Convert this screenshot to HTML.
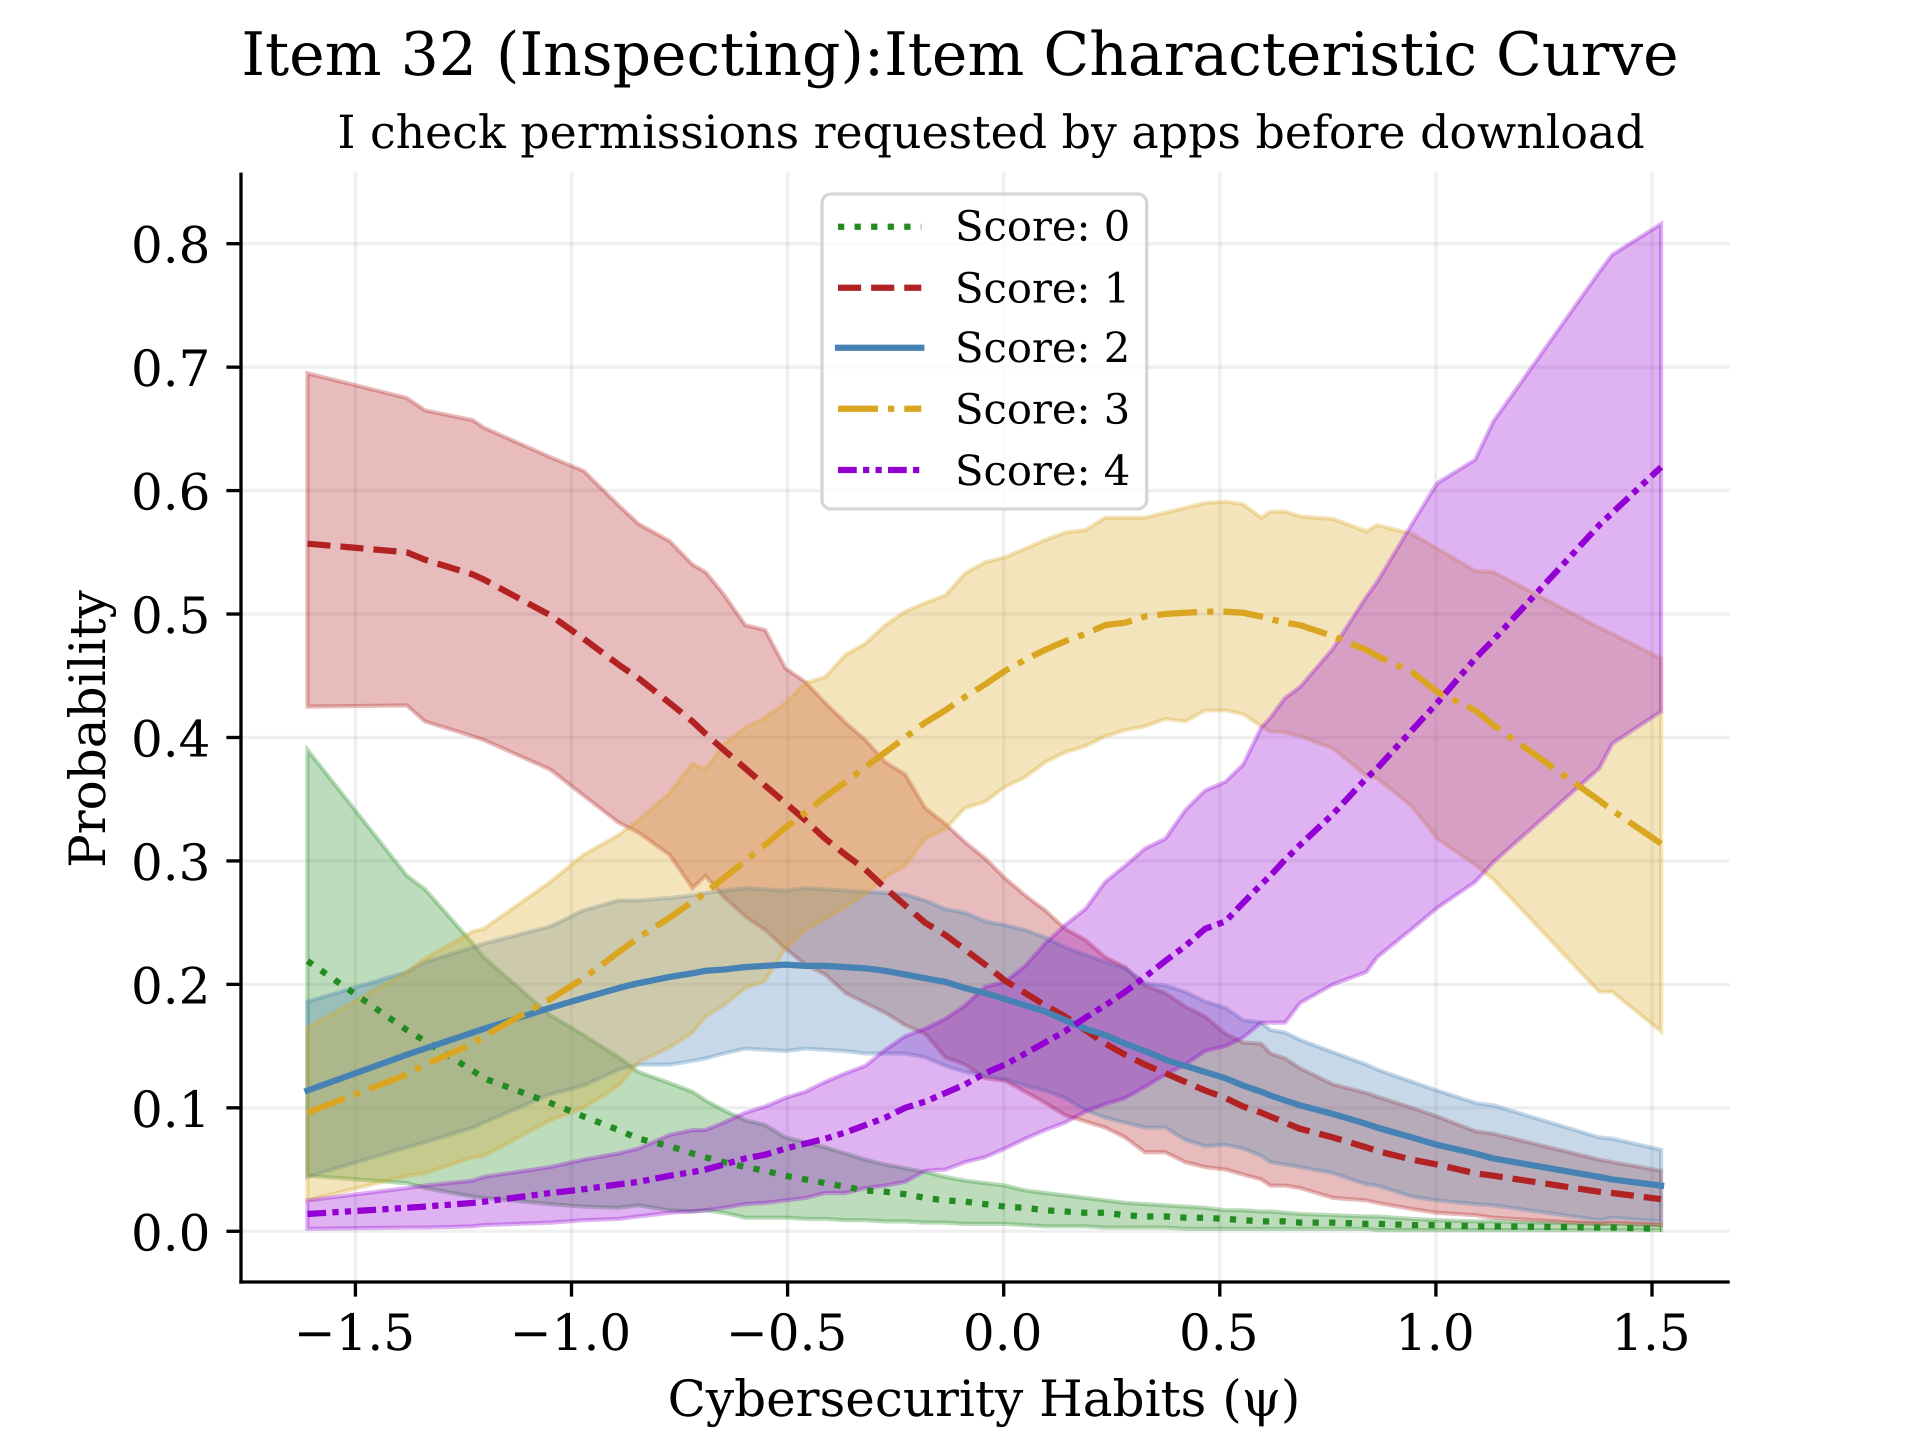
<!DOCTYPE html>
<html lang="en">
<head>
<meta charset="utf-8">
<title>Item 32 (Inspecting): Item Characteristic Curve</title>
<style>
  html, body { margin: 0; padding: 0; background: #fff; }
  svg { display: block; }
  text { font-family: "DejaVu Serif", "Liberation Serif", serif; fill: #000; text-rendering: geometricPrecision; }
</style>
</head>
<body>
<svg id="chart" xmlns="http://www.w3.org/2000/svg" width="1920" height="1440" viewBox="0 0 1920 1440">
  <rect x="0" y="0" width="1920" height="1440" fill="#ffffff"/>
  <g id="grid-layer"></g>
  <g id="band-layer"></g>
  <g id="line-layer"></g>
  <g id="axis-layer"></g>
  <g id="legend-layer"></g>
  <text x="960" y="75" font-size="60" text-anchor="middle">Item 32 (Inspecting):Item Characteristic Curve</text>
  <text x="991" y="148" font-size="45.83" text-anchor="middle">I check permissions requested by apps before download</text>
  <text x="984" y="1416" font-size="50" text-anchor="middle">Cybersecurity Habits (ψ)</text>
  <text transform="translate(105 729) rotate(-90)" font-size="50" text-anchor="middle">Probability</text>
</svg>
<script>
const thetaValues = [-1.611,-1.381,-1.339,-1.228,-1.203,-1.049,-0.972,-0.891,-0.845,-0.773,-0.720,-0.690,-0.648,-0.598,-0.552,-0.505,-0.459,-0.413,-0.366,-0.320,-0.274,-0.228,-0.182,-0.135,-0.089,-0.043,0.003,0.050,0.096,0.142,0.189,0.235,0.281,0.327,0.374,0.420,0.466,0.513,0.554,0.596,0.617,0.651,0.686,0.762,0.839,0.864,0.945,1.003,1.091,1.133,1.378,1.408,1.521];

const score0Mean = [.219,.163,.154,.130,.124,.104,.093,.082,.075,.069,.063,.060,.056,.052,.049,.045,.042,.039,.036,.033,.032,.030,.027,.025,.024,.022,.020,.019,.017,.016,.015,.015,.013,.012,.012,.011,.011,.010,.009,.008,.008,.008,.007,.007,.006,.006,.005,.005,.004,.004,.003,.003,.002];
const score0Upper = [.390,.288,.277,.233,.222,.175,.159,.141,.129,.120,.113,.106,.098,.090,.086,.076,.072,.068,.063,.058,.054,.051,.048,.044,.041,.039,.037,.033,.031,.029,.027,.025,.023,.022,.021,.020,.019,.017,.017,.016,.016,.015,.014,.013,.012,.012,.010,.009,.008,.008,.006,.006,.005];
const score0Lower = [.045,.039,.035,.028,.027,.022,.020,.019,.021,.017,.016,.017,.015,.011,.011,.011,.010,.010,.009,.009,.008,.008,.007,.007,.006,.006,.006,.005,.004,.004,.004,.003,.003,.003,.003,.002,.002,.002,.002,.002,.002,.002,.002,.002,.002,.001,.001,.001,.001,.001,.001,.001,.001];

const score1Mean = [.557,.550,.544,.532,.528,.499,.480,.459,.448,.428,.413,.403,.390,.375,.361,.347,.333,.318,.305,.293,.278,.264,.250,.240,.228,.216,.203,.193,.183,.174,.163,.152,.143,.135,.128,.121,.114,.108,.101,.096,.093,.088,.083,.076,.068,.065,.058,.054,.047,.045,.032,.031,.026];
const score1Upper = [.695,.675,.665,.657,.651,.627,.616,.588,.573,.559,.540,.534,.516,.491,.487,.456,.445,.428,.412,.398,.380,.370,.343,.330,.315,.302,.286,.272,.260,.245,.236,.222,.214,.199,.193,.182,.174,.160,.153,.152,.144,.140,.132,.119,.112,.109,.100,.093,.081,.079,.058,.056,.049];
const score1Lower = [.425,.426,.413,.401,.398,.374,.353,.331,.323,.305,.278,.288,.271,.255,.244,.229,.216,.208,.193,.185,.177,.167,.160,.141,.135,.124,.122,.113,.104,.094,.089,.084,.076,.064,.064,.056,.052,.050,.046,.042,.037,.037,.035,.027,.025,.023,.018,.015,.013,.011,.006,.007,.005];

const score2Mean = [.114,.143,.148,.161,.164,.181,.189,.197,.201,.206,.209,.211,.212,.214,.215,.216,.215,.215,.214,.213,.211,.208,.205,.202,.197,.193,.188,.183,.178,.171,.164,.159,.152,.146,.139,.134,.129,.124,.118,.113,.110,.106,.102,.095,.087,.084,.076,.070,.063,.059,.044,.042,.037];
const score2Upper = [.186,.210,.218,.230,.233,.247,.260,.268,.268,.270,.272,.274,.276,.278,.277,.276,.278,.277,.276,.275,.274,.273,.268,.261,.258,.251,.248,.244,.238,.230,.224,.218,.213,.201,.199,.194,.186,.181,.171,.169,.163,.161,.155,.145,.135,.131,.121,.114,.104,.102,.076,.075,.066];
const score2Lower = [.044,.068,.072,.084,.088,.111,.118,.131,.135,.135,.138,.140,.144,.148,.147,.146,.148,.147,.146,.144,.144,.144,.141,.134,.129,.126,.123,.118,.114,.108,.098,.092,.088,.084,.084,.074,.069,.070,.067,.061,.056,.054,.052,.047,.038,.037,.028,.025,.022,.021,.009,.011,.008];

const score3Mean = [.096,.127,.135,.152,.158,.188,.205,.226,.238,.254,.267,.274,.286,.300,.313,.327,.339,.352,.364,.376,.388,.400,.412,.422,.433,.443,.454,.463,.471,.478,.484,.491,.493,.498,.500,.501,.502,.502,.501,.498,.496,.493,.491,.482,.471,.466,.453,.437,.422,.410,.349,.341,.314];
const score3Upper = [.165,.210,.221,.243,.245,.283,.305,.321,.333,.355,.379,.374,.394,.408,.416,.428,.444,.449,.467,.476,.491,.502,.509,.515,.533,.542,.546,.553,.560,.566,.568,.578,.578,.578,.582,.586,.590,.591,.589,.578,.583,.583,.579,.577,.567,.572,.565,.553,.535,.534,.489,.484,.464];
const score3Lower = [.025,.045,.047,.060,.061,.090,.100,.118,.137,.149,.161,.174,.183,.197,.203,.229,.244,.253,.263,.273,.287,.296,.318,.326,.343,.348,.360,.368,.380,.388,.393,.401,.406,.409,.415,.413,.422,.422,.419,.409,.405,.404,.401,.391,.369,.367,.344,.318,.297,.285,.194,.194,.162];

const score4Mean = [.014,.019,.020,.023,.024,.031,.034,.038,.040,.045,.048,.050,.054,.059,.062,.067,.071,.075,.080,.086,.092,.100,.105,.112,.119,.128,.135,.144,.153,.162,.173,.183,.194,.206,.219,.231,.245,.251,.266,.281,.288,.301,.313,.338,.367,.375,.406,.428,.464,.479,.572,.582,.619];
const score4Upper = [.025,.035,.037,.041,.044,.052,.058,.063,.067,.078,.082,.082,.088,.096,.101,.108,.113,.121,.128,.134,.147,.158,.164,.172,.183,.198,.202,.215,.233,.248,.261,.283,.296,.310,.318,.341,.357,.364,.378,.408,.416,.432,.441,.472,.514,.526,.573,.606,.625,.656,.777,.791,.816];
const score4Lower = [.002,.003,.003,.004,.005,.007,.009,.010,.012,.015,.016,.017,.019,.022,.023,.025,.027,.031,.031,.035,.037,.040,.049,.050,.056,.060,.067,.075,.082,.088,.097,.103,.108,.117,.127,.135,.146,.150,.157,.169,.169,.169,.185,.200,.210,.222,.245,.262,.283,.299,.375,.395,.421];

const xTickValues = [-1.5, -1.0, -0.5, 0.0, 0.5, 1.0, 1.5];
const xTickLabels = ["\u22121.5", "\u22121.0", "\u22120.5", "0.0", "0.5", "1.0", "1.5"];
const yTickValues = [0.0, 0.1, 0.2, 0.3, 0.4, 0.5, 0.6, 0.7, 0.8];
const yTickLabels = ["0.0", "0.1", "0.2", "0.3", "0.4", "0.5", "0.6", "0.7", "0.8"];
const seriesLabels = ["Score: 0", "Score: 1", "Score: 2", "Score: 3", "Score: 4"];

const seriesMeans = [score0Mean, score1Mean, score2Mean, score3Mean, score4Mean];
const seriesUppers = [score0Upper, score1Upper, score2Upper, score3Upper, score4Upper];
const seriesLowers = [score0Lower, score1Lower, score2Lower, score3Lower, score4Lower];
const seriesColors = ["#228B22", "#B22222", "#4682B4", "#DAA520", "#9400D3"];
const seriesDashes = ["6.25 10.31", "23.12 10", "", "40 10 6.25 10", "18.75 6.25 6.25 6.25 6.25 6.25"];

const NS = "http://www.w3.org/2000/svg";
const plotLeft = 241, plotRight = 1729.7, plotTop = 172.6, plotBottom = 1282;
const xDomainMin = -1.7647, xDomainMax = 1.6798, yDomainMin = -0.0411, yDomainMax = 0.8576;

function xScale(v) {
  return plotLeft + (v - xDomainMin) / (xDomainMax - xDomainMin) * (plotRight - plotLeft);
}
function yScale(v) {
  return plotBottom - (v - yDomainMin) / (yDomainMax - yDomainMin) * (plotBottom - plotTop);
}
function make(tag, attrs, parent) {
  const el = document.createElementNS(NS, tag);
  for (const k in attrs) el.setAttribute(k, attrs[k]);
  parent.appendChild(el);
  return el;
}
function pointList(xs, ys) {
  return xs.map((x, i) => xScale(x).toFixed(2) + "," + yScale(ys[i]).toFixed(2));
}

const gridLayer = document.getElementById("grid-layer");
const bandLayer = document.getElementById("band-layer");
const lineLayer = document.getElementById("line-layer");
const axisLayer = document.getElementById("axis-layer");
const legendLayer = document.getElementById("legend-layer");
const gridStyle = { stroke: "#b0b0b0", "stroke-opacity": 0.2, "stroke-width": 3.33 };

xTickValues.forEach((v, i) => {
  const gx = make("line", Object.assign({ x1: xScale(v), x2: xScale(v), y1: plotTop, y2: plotBottom }, gridStyle), gridLayer);
  
  
  const tick = make("line", { x1: xScale(v), x2: xScale(v), y1: plotBottom, y2: plotBottom + 14.6, stroke: "#000", "stroke-width": 3.33 }, axisLayer);
  
  
  const label = make("text", { x: xScale(v) - 1, y: 1350, "font-size": 50, "text-anchor": "middle" }, axisLayer);
  
  
  label.textContent = xTickLabels[i];
});

yTickValues.forEach((v, i) => {
  const gy = make("line", Object.assign({ x1: plotLeft, x2: plotRight, y1: yScale(v), y2: yScale(v) }, gridStyle), gridLayer);
  
  
  const tick = make("line", { x1: plotLeft - 14.6, x2: plotLeft, y1: yScale(v), y2: yScale(v), stroke: "#000", "stroke-width": 3.33 }, axisLayer);
  
  
  const label = make("text", { x: 210.5, y: yScale(v) + 19, "font-size": 50, "text-anchor": "end" }, axisLayer);
  
  
  label.textContent = yTickLabels[i];
});

const leftSpine = make("line", { x1: plotLeft, x2: plotLeft, y1: plotTop, y2: plotBottom + 1.67, stroke: "#000", "stroke-width": 3.33 }, axisLayer);


const bottomSpine = make("line", { x1: plotLeft - 1.67, x2: plotRight, y1: plotBottom, y2: plotBottom, stroke: "#000", "stroke-width": 3.33 }, axisLayer);



seriesMeans.forEach((mean, s) => {
  const upperPts = pointList(thetaValues, seriesUppers[s]);
  const lowerPts = pointList(thetaValues, seriesLowers[s]).reverse();
  const band = make("polygon", {
    points: upperPts.concat(lowerPts).join(" "),
    fill: seriesColors[s], "fill-opacity": 0.3,
    stroke: seriesColors[s], "stroke-opacity": 0.3, "stroke-width": 4.17, "stroke-linejoin": "miter"
  }, bandLayer);
  
  
});

seriesMeans.forEach((mean, s) => {
  const attrs = {
    points: pointList(thetaValues, mean).join(" "),
    fill: "none", stroke: seriesColors[s], "stroke-width": 6.25,
    "stroke-linejoin": "round", "stroke-linecap": seriesDashes[s] ? "butt" : "square"
  };
  if (seriesDashes[s]) attrs["stroke-dasharray"] = seriesDashes[s];
  const curve = make("polyline", attrs, lineLayer);
  
  
});

const legendFrame = make("rect", {
  x: 822, y: 194, width: 324.7, height: 315, rx: 9, ry: 9,
  fill: "#ffffff", "fill-opacity": 0.8, stroke: "#cccccc", "stroke-opacity": 0.8, "stroke-width": 3.33
}, legendLayer);



const legendHandleY = [226.7, 287.7, 347.7, 408.7, 470];
const legendTextY = [240.7, 302.5, 362, 423.3, 485];
seriesLabels.forEach((labelText, s) => {
  const attrs = {
    x1: 838, x2: 921.3, y1: legendHandleY[s], y2: legendHandleY[s],
    stroke: seriesColors[s], "stroke-width": 6.25,
    "stroke-linecap": seriesDashes[s] ? "butt" : "square"
  };
  if (seriesDashes[s]) attrs["stroke-dasharray"] = seriesDashes[s];
  const handle = make("line", attrs, legendLayer);
  
  
  const label = make("text", { x: 955, y: legendTextY[s], "font-size": 41.67 }, legendLayer);
  
  
  label.textContent = labelText;
});
</script>
</body>
</html>
